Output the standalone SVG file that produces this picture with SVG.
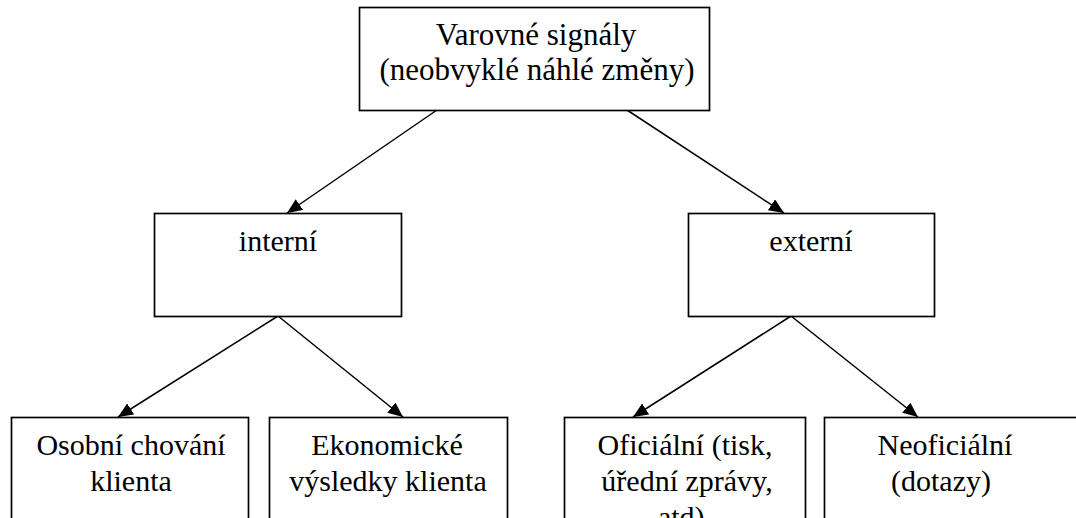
<svg xmlns="http://www.w3.org/2000/svg" width="1076" height="518" viewBox="0 0 1076 518">
<style>
.box{fill:#fff;stroke:#000;stroke-width:1.7}
.t{font-family:'Liberation Serif',Tinos,'Times New Roman',serif;font-size:30px;fill:#000;text-anchor:middle}
.big{font-size:31px}
.c{stroke:#000;stroke-width:1.5;fill:none;marker-end:url(#ah)}
</style>
<defs>
<marker id="ah" markerUnits="userSpaceOnUse" markerWidth="16" markerHeight="13" refX="15" refY="6.5" orient="auto">
<path d="M0,0 L15,6.5 L0,13 Z" fill="#000"/>
</marker>
</defs>
<rect width="1076" height="518" fill="#fff"/>
<g id="connectors">
<line class="c" x1="437" y1="110" x2="287" y2="213"/>
<line class="c" x1="627" y1="110" x2="784" y2="213"/>
<line class="c" x1="278" y1="316" x2="118" y2="417"/>
<line class="c" x1="278" y1="316" x2="403" y2="417"/>
<line class="c" x1="791" y1="316" x2="633" y2="417"/>
<line class="c" x1="791" y1="316" x2="918" y2="417"/>
</g>
<g id="root">
<rect class="box" x="359.5" y="7.5" width="350" height="103"/>
<text class="t big" x="536" y="45">Varovné signály</text>
<text class="t big" x="537" y="80">(neobvyklé náhlé změny)</text>
</g>
<g id="interni">
<rect class="box" x="154.5" y="213.5" width="247" height="103"/>
<text class="t" x="278" y="251">interní</text>
</g>
<g id="externi">
<rect class="box" x="688.5" y="213.5" width="246" height="103"/>
<text class="t" x="811" y="251">externí</text>
</g>
<g id="osobni">
<rect class="box" x="11.5" y="417.5" width="237" height="120"/>
<text class="t" x="131" y="455">Osobní chování</text>
<text class="t" x="131" y="491">klienta</text>
</g>
<g id="ekonomicke">
<rect class="box" x="269.5" y="417.5" width="238" height="120"/>
<text class="t" x="387" y="455">Ekonomické</text>
<text class="t" x="388" y="491">výsledky klienta</text>
</g>
<g id="oficialni">
<rect class="box" x="564.5" y="417.5" width="241" height="120"/>
<text class="t" x="685" y="455">Oficiální (tisk,</text>
<text class="t" x="687" y="491">úřední zprávy,</text>
<text class="t" x="685" y="527">atd).</text>
</g>
<g id="neoficialni">
<rect class="box" x="824.5" y="417.5" width="260" height="120"/>
<text class="t" x="945" y="455">Neoficiální</text>
<text class="t" x="941" y="491">(dotazy)</text>
</g>
</svg>
